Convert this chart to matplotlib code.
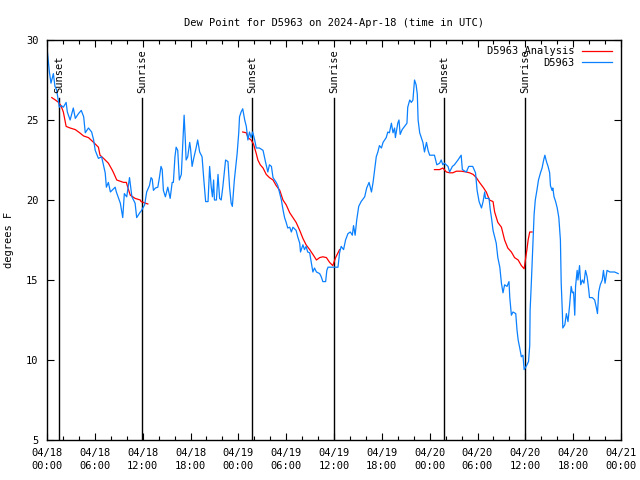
import numpy as np
import matplotlib
matplotlib.use("Agg")
import matplotlib.pyplot as plt
import matplotlib.dates as mdates
from datetime import datetime, timedelta

START = datetime(2024, 4, 18, 0, 0)

# hours after 2024-04-18 00:00 UTC, dew point in F
obs_hours = [
    0.0, 0.15, 0.3, 0.5, 0.8, 1.0, 1.2, 1.55, 1.8, 2.05, 2.4, 2.55, 2.9, 3.3, 3.55,
    3.95, 4.3, 4.6, 4.8, 5.2, 5.6, 5.85, 6.05, 6.45, 6.85, 7.3, 7.45, 7.7, 7.95,
    8.55, 8.7, 9.2, 9.5, 9.7, 10.0, 10.35, 10.65, 11.05, 11.25, 11.7, 11.8,
    12.25, 12.5, 12.85, 13.05, 13.2, 13.35, 13.6, 13.9, 14.1, 14.3, 14.45, 14.6,
    14.85, 15.15, 15.45, 15.7, 15.85, 16.05, 16.2, 16.4, 16.6, 16.85, 16.95,
    17.1, 17.2, 17.35, 17.45, 17.65, 17.9, 18.0, 18.2, 18.4, 18.7, 18.9, 19.15,
    19.45, 19.65, 19.9, 20.2, 20.4, 20.6, 20.75, 20.9, 21.0, 21.25, 21.45, 21.65,
    21.85, 22.05, 22.4, 22.7, 22.9, 23.1, 23.25, 23.5, 23.85, 24.05, 24.15,
    24.35, 24.55, 24.8, 25.0, 25.2, 25.4, 25.6, 25.8, 26.05, 26.25, 26.65, 27.1,
    27.4, 27.7, 27.9, 28.15, 28.35, 28.75, 28.95, 29.2, 29.4, 29.6, 29.8, 30.0,
    30.2, 30.45, 30.65, 30.85, 31.25, 31.45, 31.7, 31.8, 32.1, 32.3, 32.5, 32.7,
    32.95, 33.15, 33.35, 33.55, 33.8, 34.2, 34.4, 34.6, 34.95, 35.1, 35.25,
    35.85, 36.5, 36.7, 36.9, 37.2, 37.45, 37.75, 38.05, 38.3, 38.45, 38.65,
    38.85, 39.1, 39.4, 39.85, 40.1, 40.4, 40.7, 40.9, 41.1, 41.3, 41.5, 41.7,
    41.95, 42.15, 42.35, 42.55, 42.75, 42.95, 43.2, 43.4, 43.6, 43.7, 44.0,
    44.15, 44.3, 44.55, 44.85, 45.15, 45.25, 45.5, 45.7, 45.9, 46.1, 46.3,
    46.45, 46.55, 46.75, 46.95, 47.15, 47.35, 47.6, 47.8, 48.0, 48.2, 48.6,
    48.9, 49.25, 49.45, 49.65, 49.85, 50.3, 50.5, 50.85, 51.1, 51.55, 51.95,
    52.1, 52.6, 52.9, 53.4, 53.75, 53.95, 54.2, 54.5, 54.7, 54.9, 55.0, 55.45,
    55.6, 55.75, 55.95, 56.15, 56.35, 56.55, 56.8, 57.0, 57.2, 57.4, 57.7,
    57.95, 58.05, 58.25, 58.45, 58.8, 58.95, 59.1, 59.3, 59.5, 59.7, 59.85,
    60.1, 60.4, 60.55, 60.6, 60.75, 60.9, 61.1, 61.25, 61.45, 61.65, 61.9,
    62.1, 62.3, 62.45, 62.65, 62.85, 63.05, 63.15, 63.35, 63.45, 63.6, 63.8,
    64.0, 64.2, 64.4, 64.5, 64.65, 64.7, 64.95, 65.15, 65.35, 65.55, 65.75,
    65.9, 66.05, 66.2, 66.3, 66.5, 66.6, 66.8, 66.95, 67.15, 67.35, 67.55,
    67.75, 67.95, 68.05, 68.4, 68.7, 68.9, 69.05, 69.2, 69.4, 69.65, 69.8,
    70.0, 70.25, 70.6, 71.2, 71.65,
]
obs_dewpt = [
    29.5, 28.75, 28.0, 27.3, 27.9, 27.1, 26.9, 25.8, 25.9, 25.8, 26.1, 25.5, 25.0, 25.75, 25.1,
    25.4, 25.6, 25.2, 24.2, 24.5, 24.25, 23.75, 23.1, 22.6, 22.7, 21.7, 20.8, 21.1, 20.5,
    20.8, 20.5, 19.8, 18.9, 20.4, 20.2, 21.4, 20.2, 19.8, 18.9, 19.25, 19.3,
    19.7, 20.5, 20.9, 21.4, 21.3, 20.6, 20.75, 20.8, 21.4, 22.1, 21.9, 20.6,
    20.2, 20.8, 20.1, 21.1, 21.1, 22.7, 23.3, 23.1, 21.25, 21.6, 22.7,
    24.4, 25.3, 23.75, 22.5, 22.7, 23.6, 23.25, 22.1, 22.6, 23.25, 23.75, 23.0,
    22.7, 21.4, 19.9, 19.9, 22.1, 20.8, 20.2, 21.25, 20.0, 20.0, 21.6, 20.1,
    20.0, 20.8, 22.5, 22.4, 20.8, 19.8, 19.6, 21.25, 22.9, 24.2, 25.2,
    25.5, 25.7, 25.0, 24.6, 23.75, 24.25, 23.9, 24.25, 23.75, 23.25, 23.25, 23.1,
    22.4, 21.75, 22.2, 22.1, 21.4, 21.1, 20.9, 20.4, 20.0, 19.4, 18.9, 18.6,
    18.25, 18.3, 18.0, 18.3, 18.1, 17.7, 17.3, 16.75, 17.2, 16.9, 17.1, 16.75,
    16.7, 16.1, 15.5, 15.75, 15.5, 15.4, 15.2, 14.9, 14.9, 15.6, 15.8,
    15.8, 15.8, 16.7, 17.1, 16.9, 17.5, 17.9, 18.0, 17.8, 18.4, 17.8,
    18.75, 19.6, 19.9, 20.2, 20.75, 21.1, 20.5, 21.1, 21.9, 22.7, 23.0, 23.4,
    23.25, 23.6, 23.75, 23.9, 24.25, 24.2, 24.8, 24.2, 24.5, 23.9, 24.8,
    25.0, 24.1, 24.4, 24.6, 24.8, 25.8, 26.25, 26.1, 26.25, 27.5, 27.2,
    26.6, 25.0, 24.2, 23.9, 23.6, 23.0, 23.6, 23.1, 22.8, 22.8, 22.8,
    22.2, 22.3, 22.5, 22.2, 22.3, 22.1, 21.75, 22.1, 22.2, 22.5, 22.8,
    21.9, 21.75, 22.1, 22.1, 21.7, 20.6, 19.9, 19.5, 19.9, 20.5, 20.1, 20.1,
    19.4, 18.9, 18.1, 17.7, 17.3, 16.4, 15.8, 14.8, 14.2, 14.7, 14.6,
    14.9, 13.9, 12.8, 13.0, 12.9, 11.9, 11.25, 10.75, 10.2, 10.3, 9.4,
    9.6, 9.9, 10.9, 13.1, 14.8, 16.7, 19.1, 20.0, 20.6, 21.25, 21.7,
    22.0, 22.5, 22.8, 22.4, 22.1, 21.7, 20.9, 20.6, 20.75, 20.2, 19.9,
    19.5, 18.9, 17.5, 14.8, 12.9, 12.0, 12.2, 12.9, 12.4, 13.4, 14.6,
    14.2, 14.25, 12.8, 14.6, 15.6, 15.0, 15.9, 14.7, 15.0, 14.8, 15.6,
    15.2, 14.4, 13.9, 13.9, 13.75, 13.3, 12.9, 14.25, 14.7, 15.0, 15.6,
    14.8, 15.6, 15.5, 15.5, 15.4,
]

# analysis runs: three separate pieces
ana1_hours = [0.6, 1.05, 1.45, 1.75, 2.05, 2.4, 2.9, 3.55, 4.1, 4.6, 5.2, 5.85, 6.45, 6.65,
              7.1, 7.7, 8.15, 8.35, 8.75, 9.6, 9.95, 10.25, 10.45, 11.05, 11.7, 11.8, 12.65]
ana1_dewpt = [26.4, 26.25, 26.1, 25.9, 25.5, 24.6, 24.5, 24.4, 24.2, 24.0, 23.9, 23.6, 23.3, 22.8,
              22.6, 22.3, 21.9, 21.7, 21.25, 21.1, 21.1, 20.6, 20.3, 20.1, 20.0, 19.9, 19.75]
ana2_hours = [24.55, 25.0, 25.2, 25.6, 25.9, 26.25, 26.45, 26.75, 27.1, 27.5, 27.9, 28.35, 28.75,
              29.2, 29.6, 30.0, 30.45, 30.85, 31.25, 31.7, 32.1, 32.5, 32.95, 33.35, 33.8,
              34.2, 34.6, 35.05, 35.45, 35.85, 36.2, 36.5, 36.7]
ana2_dewpt = [24.25, 24.2, 23.9, 23.75, 23.5, 22.9, 22.5, 22.2, 22.0, 21.6, 21.4, 21.25, 20.9,
              20.6, 20.0, 19.7, 19.2, 18.9, 18.6, 18.1, 17.6, 17.2, 16.9, 16.6, 16.25,
              16.4, 16.45, 16.4, 16.1, 15.9, 16.4, 16.7, 16.9]
ana3_hours = [48.6, 49.25, 49.65, 50.1, 50.5, 50.9, 51.35, 51.95, 52.6, 53.0, 53.45, 53.85, 54.25,
              54.7, 55.1, 55.5, 55.95, 56.15, 56.55, 57.0, 57.4, 57.8, 58.25, 58.65, 59.1,
              59.5, 59.85, 60.05, 60.2, 60.35, 60.55, 60.85]
ana3_dewpt = [21.9, 21.9, 22.0, 21.75, 21.7, 21.7, 21.8, 21.8, 21.75, 21.7, 21.6, 21.4, 21.1,
              20.8, 20.5, 20.0, 19.9, 19.25, 18.6, 18.3, 17.5, 17.0, 16.75, 16.4, 16.25,
              15.9, 15.7, 16.4, 16.9, 17.5, 18.0, 18.0]

sun_hours = [1.55, 11.95, 25.7, 36.0, 49.8, 59.95]
sun_labels = ["Sunset", "Sunrise", "Sunset", "Sunrise", "Sunset", "Sunrise"]


def to_dt(hours):
    return [START + timedelta(hours=h) for h in hours]


def main():
    plt.rcParams['font.family'] = ['DejaVu Sans Mono']
    fs = 7.5
    fig = plt.figure(figsize=(6.4, 4.8), dpi=100)
    ax = fig.add_axes([47 / 640, 40 / 480, 574 / 640, 400 / 480])

    for h, lab in zip(sun_hours, sun_labels):
        t = START + timedelta(hours=h)
        ax.plot([t, t], [5, 26.4], color='black', lw=1.0)
        ax.text(t, 26.7, lab, rotation=90, ha='center', va='bottom', fontsize=fs)

    first = True
    for hh, vv in [(ana1_hours, ana1_dewpt), (ana2_hours, ana2_dewpt), (ana3_hours, ana3_dewpt)]:
        ax.plot(to_dt(hh), vv, color='#ff0000', lw=0.9,
                label='D5963 Analysis' if first else None)
        first = False
    ax.plot(to_dt(obs_hours), obs_dewpt, color='#0a80ff', lw=0.9, label='D5963')

    ax.set_xlim(START, START + timedelta(hours=72))
    ax.set_ylim(5, 30)
    ax.set_yticks([5, 10, 15, 20, 25, 30])
    ax.xaxis.set_major_locator(mdates.HourLocator(byhour=[0, 6, 12, 18]))
    ax.xaxis.set_minor_locator(mdates.HourLocator(interval=2))
    ax.xaxis.set_major_formatter(mdates.DateFormatter('%m/%d\n%H:%M'))
    ax.tick_params(which='both', direction='in', top=True, right=True, labelsize=fs, pad=6)
    ax.tick_params(which='major', length=5, width=0.8)
    ax.tick_params(which='minor', length=3, width=0.8)
    for lbl in ax.get_xticklabels():
        lbl.set_linespacing(1.35)
    for s in ax.spines.values():
        s.set_linewidth(1.0)

    ax.set_title('Dew Point for D5963 on 2024-Apr-18 (time in UTC)', fontsize=fs, pad=10)
    ax.set_ylabel('degrees F', fontsize=fs, labelpad=9)

    ax.legend(loc='upper right', frameon=False, markerfirst=False, fontsize=fs,
              handlelength=2.9, handletextpad=0.7, labelspacing=0.15,
              borderaxespad=0.2, bbox_to_anchor=(0.995, 1.0))

    fig.savefig('out.png', dpi=100)


if __name__ == "__main__":
    main()
